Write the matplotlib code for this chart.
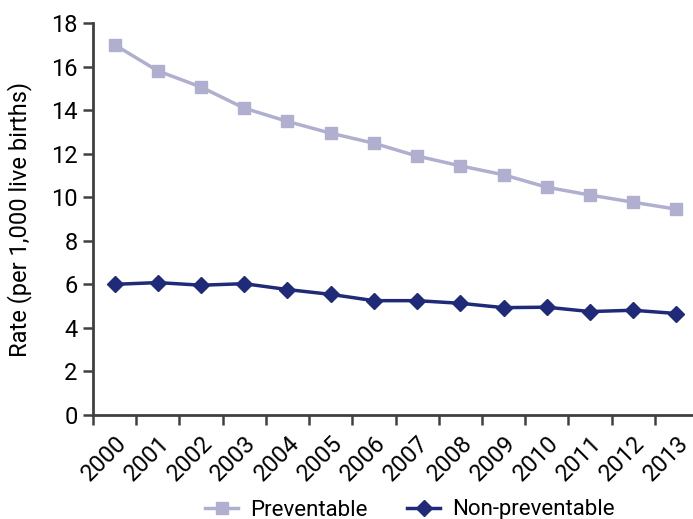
import matplotlib
matplotlib.use("Agg")
import matplotlib.pyplot as plt
import numpy as np

years = ["2000", "2001", "2002", "2003", "2004", "2005", "2006", "2007",
         "2008", "2009", "2010", "2011", "2012", "2013"]
preventable = [17.0, 15.8, 15.06, 14.09, 13.48, 12.94, 12.48, 11.89,
               11.44, 11.03, 10.46, 10.1, 9.77, 9.45]
non_preventable = [6.0, 6.08, 5.96, 6.03, 5.76, 5.54, 5.25, 5.25,
                   5.13, 4.93, 4.95, 4.75, 4.81, 4.66]

plt.rcParams['font.family'] = ['Roboto', 'DejaVu Sans']

fig = plt.figure(figsize=(6.93, 5.19), dpi=100)
ax = fig.add_axes([93/693, 104/519, 605/693, (415-23)/519])

x = np.arange(len(years))
ax.plot(x, preventable, color="#b0afd0", lw=2.5, marker="s", ms=8.5,
        label="Preventable")
ax.plot(x, non_preventable, color="#1f2a78", lw=2.5, marker="D", ms=8,
        label="Non-preventable")

ax.set_xlim(-0.5, len(years) - 0.5)
ax.set_ylim(0, 18)
ax.set_yticks(range(0, 19, 2))
ax.set_xticks(x)
ax.set_xticklabels(years, rotation=45, ha="right", va="top",
                   rotation_mode="anchor")
ax.set_xticks(np.arange(-0.5, len(years), 1), minor=True)
ax.tick_params(axis="x", which="major", length=0, pad=12, labelsize=17)
ax.tick_params(axis="x", which="minor", length=7, width=1.8, color="#404040")
ax.tick_params(axis="y", length=7, width=1.8, color="#404040", labelsize=17, pad=4)

for s in ["top", "right"]:
    ax.spines[s].set_visible(False)
for s in ["left", "bottom"]:
    ax.spines[s].set_color("#404040")
    ax.spines[s].set_linewidth(2)

ax.set_ylabel("Rate (per 1,000 live births)", fontsize=17, labelpad=14)

fig.legend(loc="center", bbox_to_anchor=(410/693, 1 - 510/519), ncol=2,
           frameon=False, fontsize=16, handlelength=1.45, columnspacing=1.8,
           handletextpad=0.55)

fig.savefig("out.png", dpi=100)
